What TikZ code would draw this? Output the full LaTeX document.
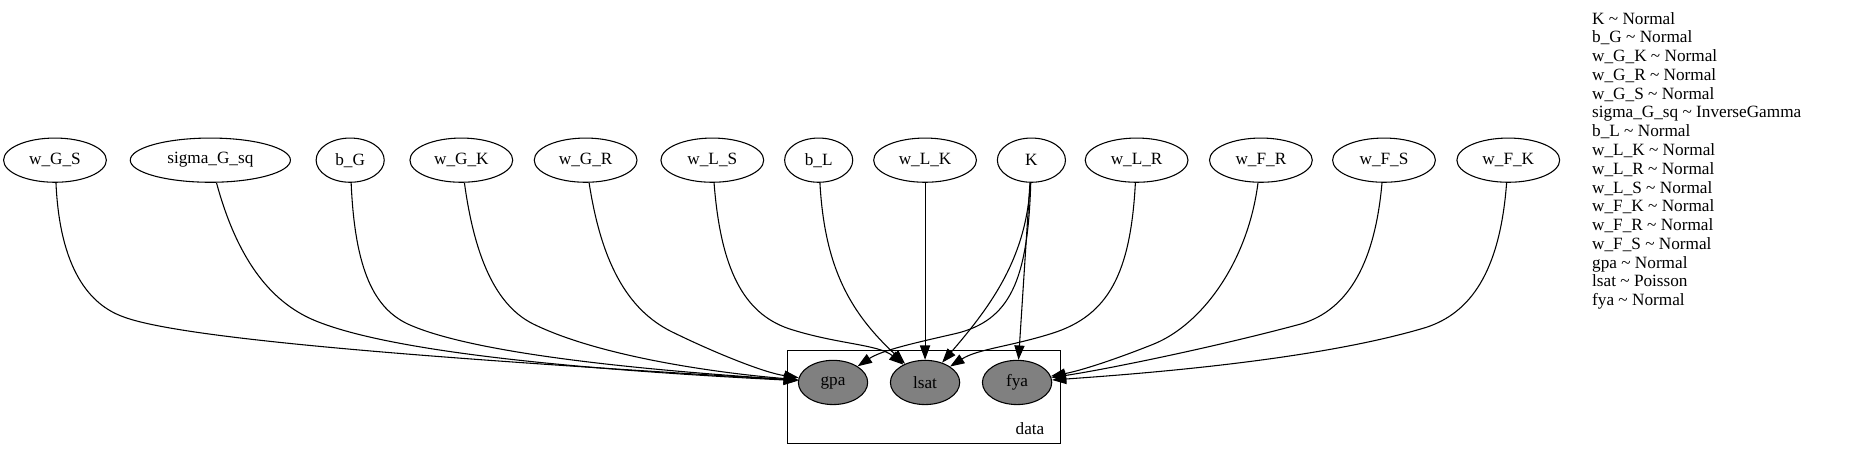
\documentclass[tikz,border=0pt]{standalone}
\usepackage{fontspec}
\setmainfont{Liberation Serif}
\usetikzlibrary{arrows.meta,shapes.geometric}
\newcommand\gvfont{\fontsize{14.4}{15.7}\selectfont}
\tikzset{
  rv/.style={ellipse, draw, line width=0.9pt, minimum width=86pt, minimum height=37pt,
             inner sep=1pt, font=\gvfont},
  rvs/.style={rv, minimum width=57pt},
  obs/.style={rv, minimum width=58pt, fill=gray},
  edge/.style={-{Triangle[length=12pt,width=8.5pt]}, line width=0.9pt},
  legend/.style={anchor=base west, inner sep=0pt, font=\gvfont},
  plate/.style={draw, line width=0.9pt, inner sep=0pt}
}
\begin{document}
\begin{tikzpicture}[x=1pt, y=-1pt]
\useasboundingbox (0,0) rectangle (1568,384);

% plate
\node[plate, minimum width=228pt, minimum height=78pt] (dataplate) at (773,332) {};
\node[anchor=east, inner sep=0pt, font=\gvfont] (datalbl) at (874,359) {data};

% top row
\node[rv] (wGS) at (46,134) {w\_G\_S};
\node[rv, minimum width=134pt] (sGsq) at (176,134) {sigma\_G\_sq};
\node[rvs] (bG) at (293,134) {b\_G};
\node[rv] (wGK) at (386,134) {w\_G\_K};
\node[rv] (wGR) at (490,134) {w\_G\_R};
\node[rv] (wLS) at (596,134) {w\_L\_S};
\node[rvs] (bL) at (685,134) {b\_L};
\node[rv] (wLK) at (774,134) {w\_L\_K};
\node[rvs] (K) at (863,134) {K};
\node[rv] (wLR) at (951,134) {w\_L\_R};
\node[rv] (wFR) at (1055,134) {w\_F\_R};
\node[rv] (wFS) at (1158,134) {w\_F\_S};
\node[rv] (wFK) at (1262,134) {w\_F\_K};

% observed
\node[obs] (gpa) at (697,320) {gpa};
\node[obs] (lsat) at (774,320) {lsat};
\node[obs] (fya) at (851,320) {fya};

% edges into gpa
\draw[edge] (wGS) .. controls (50,225) and (75,255) .. (103,265)
  .. controls (160,287) and (450,305) .. (gpa);
\draw[edge] (sGsq) .. controls (198,215) and (225,252) .. (263,268)
  .. controls (330,296) and (500,310) .. (gpa);
\draw[edge] (bG) .. controls (297,228) and (314,258) .. (341,271)
  .. controls (400,298) and (560,311) .. (gpa);
\draw[edge] (wGK) .. controls (398,222) and (418,257) .. (446,271)
  .. controls (505,300) and (610,313) .. (gpa);
\draw[edge] (wGR) .. controls (504,225) and (528,262) .. (565,279)
  .. controls (600,296) and (640,312) .. (gpa);
\draw[edge] (K) .. controls (860,235) and (845,268) .. (800,279)
  .. controls (765,287) and (738,293) .. (gpa);

% edges into lsat
\draw[edge] (wLS) .. controls (603,225) and (622,262) .. (660,275)
  .. controls (700,288) and (735,288) .. (lsat);
\draw[edge] (bL) .. controls (690,225) and (712,262) .. (lsat);
\draw[edge] (wLK) -- (lsat);
\draw[edge] (K) .. controls (859,215) and (830,255) .. (lsat);
\draw[edge] (wLR) .. controls (946,228) and (928,264) .. (880,279)
  .. controls (845,290) and (818,292) .. (lsat);

% edges into fya
\draw[edge] (K) -- (fya);
\draw[edge] (wFR) .. controls (1044,220) and (1005,272) .. (965,288)
  .. controls (935,300) and (905,310) .. (fya);
\draw[edge] (wFS) .. controls (1150,225) and (1125,262) .. (1085,272)
  .. controls (1010,292) and (920,310) .. (fya);
\draw[edge] (wFK) .. controls (1255,228) and (1230,262) .. (1193,274)
  .. controls (1100,302) and (950,313) .. (fya);

% legend
\foreach \t [count=\i] in {
  K \textasciitilde{} Normal,
  b\_G \textasciitilde{} Normal,
  w\_G\_K \textasciitilde{} Normal,
  w\_G\_R \textasciitilde{} Normal,
  w\_G\_S \textasciitilde{} Normal,
  sigma\_G\_sq \textasciitilde{} InverseGamma,
  b\_L \textasciitilde{} Normal,
  w\_L\_K \textasciitilde{} Normal,
  w\_L\_R \textasciitilde{} Normal,
  w\_L\_S \textasciitilde{} Normal,
  w\_F\_K \textasciitilde{} Normal,
  w\_F\_R \textasciitilde{} Normal,
  w\_F\_S \textasciitilde{} Normal,
  gpa \textasciitilde{} Normal,
  lsat \textasciitilde{} Poisson,
  fya \textasciitilde{} Normal}
  \node[legend] (leg\i) at (1332, {20.2+15.7*(\i-1)}) {\t};
\end{tikzpicture}
\end{document}
